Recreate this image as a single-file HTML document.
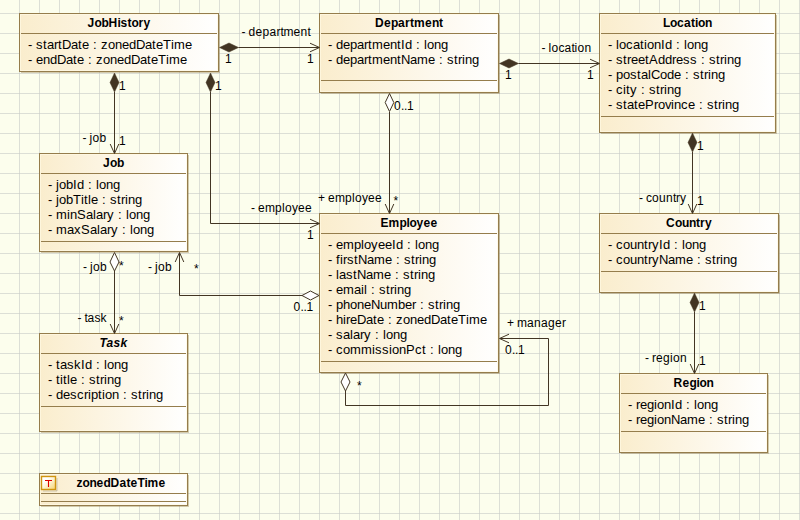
<!DOCTYPE html>
<html><head><meta charset="utf-8"><style>
html,body{margin:0;padding:0;background:#fcfeed;width:800px;height:520px;overflow:hidden}
svg{display:block}
text{font-family:"Liberation Sans",sans-serif;fill:#000000;font-kerning:none}
.h{font-size:12px;font-weight:bold}
.hi{font-size:12px;font-weight:bold;font-style:italic}
.a{font-size:13px}
.l{font-size:12px}
</style></head><body>
<svg width="800" height="520" viewBox="0 0 800 520">
<defs>
<linearGradient id="g" x1="0" y1="0" x2="1" y2="0">
<stop offset="0" stop-color="#faedcd"/><stop offset="1" stop-color="#ffffff"/>
</linearGradient>
<linearGradient id="ig" x1="0" y1="0" x2="1" y2="1">
<stop offset="0.3" stop-color="#ffffff"/><stop offset="1" stop-color="#f7d36a"/>
</linearGradient>
</defs>
<rect x="0" y="0" width="800" height="520" fill="#fcfeed"/>

<path d="M19.5 0V520 M39.5 0V520 M59.5 0V520 M79.5 0V520 M99.5 0V520 M119.5 0V520 M139.5 0V520 M159.5 0V520 M179.5 0V520 M199.5 0V520 M219.5 0V520 M239.5 0V520 M259.5 0V520 M279.5 0V520 M299.5 0V520 M319.5 0V520 M339.5 0V520 M359.5 0V520 M379.5 0V520 M399.5 0V520 M419.5 0V520 M439.5 0V520 M459.5 0V520 M479.5 0V520 M499.5 0V520 M519.5 0V520 M539.5 0V520 M559.5 0V520 M579.5 0V520 M599.5 0V520 M619.5 0V520 M639.5 0V520 M659.5 0V520 M679.5 0V520 M699.5 0V520 M719.5 0V520 M739.5 0V520 M759.5 0V520 M779.5 0V520 M799.5 0V520" stroke="#c8cbc8" stroke-opacity="0.62" stroke-width="1" fill="none"/>
<path d="M0 13.5H800 M0 33.5H800 M0 53.5H800 M0 73.5H800 M0 93.5H800 M0 113.5H800 M0 133.5H800 M0 153.5H800 M0 173.5H800 M0 193.5H800 M0 213.5H800 M0 233.5H800 M0 253.5H800 M0 273.5H800 M0 293.5H800 M0 313.5H800 M0 333.5H800 M0 353.5H800 M0 373.5H800 M0 393.5H800 M0 413.5H800 M0 433.5H800 M0 453.5H800 M0 473.5H800 M0 493.5H800 M0 513.5H800" stroke="#c8cbc8" stroke-opacity="0.62" stroke-width="1" fill="none"/>
<path d="M219.5 15V72.5H21" stroke="#957d4c" stroke-opacity="0.4" stroke-width="1" fill="none"/><rect x="19.5" y="13.5" width="199" height="58" fill="url(#g)" stroke="#957d4c" stroke-width="1"/><rect x="20.5" y="14.5" width="197" height="56" fill="none" stroke="#fff9e4" stroke-opacity="0.7" stroke-width="1"/><path d="M21 33.5H217" stroke="#957d4c" stroke-width="1"/>
<text class="h" x="87.5 94.5 101.5 108.5 117.5 120.5 127.5 131.5 138.5 143.5" y="27">JobHistory</text>
<text class="a" x="28 32.0 36.0 43.0 47.0 54.0 58.0 62.0 71.0 78.0 82.0 89.0 93.0 97.0 101.0 108.0 115.0 122.0 129.0 136.0 145.0 152.0 156.0 163.0 171.0 174.0 185.0" y="49">- startDate : zonedDateTime</text>
<text class="a" x="28 32.0 36.0 43.0 50.0 57.0 66.0 73.0 77.0 84.0 88.0 92.0 96.0 103.0 110.0 117.0 124.0 131.0 140.0 147.0 151.0 158.0 166.0 169.0 180.0" y="64">- endDate : zonedDateTime</text>
<path d="M499.5 15V93.5H321" stroke="#957d4c" stroke-opacity="0.4" stroke-width="1" fill="none"/><rect x="319.5" y="13.5" width="179" height="79" fill="url(#g)" stroke="#957d4c" stroke-width="1"/><rect x="320.5" y="14.5" width="177" height="77" fill="none" stroke="#fff9e4" stroke-opacity="0.7" stroke-width="1"/><path d="M321 33.5H497M321 80.5H497" stroke="#957d4c" stroke-width="1"/>
<text class="h" x="375.0 384.0 391.0 398.0 405.0 410.0 414.0 425.0 432.0 439.0" y="27">Department</text>
<text class="a" x="328 332.0 336.0 343.0 350.0 357.0 364.0 368.0 372.0 383.0 390.0 397.0 401.0 405.0 412.0 416.0 420.0 424.0 427.0 434.0 441.0" y="49">- departmentId : long</text>
<text class="a" x="328 332.0 336.0 343.0 350.0 357.0 364.0 368.0 372.0 383.0 390.0 397.0 401.0 410.0 417.0 428.0 435.0 439.0 443.0 447.0 454.0 458.0 462.0 465.0 472.0" y="64">- departmentName : string</text>
<path d="M776.5 15V133.5H601" stroke="#957d4c" stroke-opacity="0.4" stroke-width="1" fill="none"/><rect x="599.5" y="13.5" width="176" height="119" fill="url(#g)" stroke="#957d4c" stroke-width="1"/><rect x="600.5" y="14.5" width="174" height="117" fill="none" stroke="#fff9e4" stroke-opacity="0.7" stroke-width="1"/><path d="M601 33.5H774M601 116.5H774" stroke="#957d4c" stroke-width="1"/>
<text class="h" x="663.0 670.0 677.0 684.0 691.0 695.0 698.0 705.0" y="27">Location</text>
<text class="a" x="608 612.0 616.0 619.0 626.0 633.0 640.0 644.0 647.0 654.0 661.0 665.0 672.0 676.0 680.0 684.0 687.0 694.0 701.0" y="49">- locationId : long</text>
<text class="a" x="608 612.0 616.0 623.0 627.0 631.0 638.0 645.0 649.0 658.0 665.0 672.0 676.0 683.0 690.0 697.0 701.0 705.0 709.0 716.0 720.0 724.0 727.0 734.0" y="64">- streetAddress : string</text>
<text class="a" x="608 612.0 616.0 623.0 630.0 637.0 641.0 648.0 651.0 660.0 667.0 674.0 681.0 685.0 689.0 693.0 700.0 704.0 708.0 711.0 718.0" y="79">- postalCode : string</text>
<text class="a" x="608 612.0 616.0 623.0 626.0 630.0 637.0 641.0 645.0 649.0 656.0 660.0 664.0 667.0 674.0" y="94">- city : string</text>
<text class="a" x="608 612.0 616.0 623.0 627.0 634.0 638.0 645.0 654.0 658.0 665.0 671.0 674.0 681.0 688.0 695.0 699.0 703.0 707.0 714.0 718.0 722.0 725.0 732.0" y="109">- stateProvince : string</text>
<path d="M188.5 155V252.5H41" stroke="#957d4c" stroke-opacity="0.4" stroke-width="1" fill="none"/><rect x="39.5" y="153.5" width="148" height="98" fill="url(#g)" stroke="#957d4c" stroke-width="1"/><rect x="40.5" y="154.5" width="146" height="96" fill="none" stroke="#fff9e4" stroke-opacity="0.7" stroke-width="1"/><path d="M41 173.5H186M41 241.5H186" stroke="#957d4c" stroke-width="1"/>
<text class="h" x="103.0 110.0 117.0" y="167">Job</text>
<text class="a" x="48 52.0 56.0 59.0 66.0 73.0 77.0 84.0 88.0 92.0 96.0 99.0 106.0 113.0" y="189">- jobId : long</text>
<text class="a" x="48 52.0 56.0 59.0 66.0 73.0 81.0 84.0 88.0 91.0 98.0 102.0 106.0 110.0 117.0 121.0 125.0 128.0 135.0" y="204">- jobTitle : string</text>
<text class="a" x="48 52.0 56.0 67.0 70.0 77.0 86.0 93.0 96.0 103.0 107.0 114.0 118.0 122.0 126.0 129.0 136.0 143.0" y="219">- minSalary : long</text>
<text class="a" x="48 52.0 56.0 67.0 74.0 81.0 90.0 97.0 100.0 107.0 111.0 118.0 122.0 126.0 130.0 133.0 140.0 147.0" y="234">- maxSalary : long</text>
<path d="M499.5 215V373.5H321" stroke="#957d4c" stroke-opacity="0.4" stroke-width="1" fill="none"/><rect x="319.5" y="213.5" width="179" height="159" fill="url(#g)" stroke="#957d4c" stroke-width="1"/><rect x="320.5" y="214.5" width="177" height="157" fill="none" stroke="#fff9e4" stroke-opacity="0.7" stroke-width="1"/><path d="M321 233.5H497M321 361.5H497" stroke="#957d4c" stroke-width="1"/>
<text class="h" x="380.5 388.5 399.5 406.5 409.5 416.5 423.5 430.5" y="227">Employee</text>
<text class="a" x="328 332.0 336.0 343.0 354.0 361.0 364.0 371.0 378.0 385.0 392.0 396.0 403.0 407.0 411.0 415.0 418.0 425.0 432.0" y="249">- employeeId : long</text>
<text class="a" x="328 332.0 336.0 340.0 343.0 347.0 354.0 358.0 367.0 374.0 385.0 392.0 396.0 400.0 404.0 411.0 415.0 419.0 422.0 429.0" y="264">- firstName : string</text>
<text class="a" x="328 332.0 336.0 339.0 346.0 353.0 357.0 366.0 373.0 384.0 391.0 395.0 399.0 403.0 410.0 414.0 418.0 421.0 428.0" y="279">- lastName : string</text>
<text class="a" x="328 332.0 336.0 343.0 354.0 361.0 364.0 367.0 371.0 375.0 379.0 386.0 390.0 394.0 397.0 404.0" y="294">- email : string</text>
<text class="a" x="328 332.0 336.0 343.0 350.0 357.0 364.0 371.0 380.0 387.0 398.0 405.0 412.0 416.0 420.0 424.0 428.0 435.0 439.0 443.0 446.0 453.0" y="309">- phoneNumber : string</text>
<text class="a" x="328 332.0 336.0 343.0 346.0 350.0 357.0 366.0 373.0 377.0 384.0 388.0 392.0 396.0 403.0 410.0 417.0 424.0 431.0 440.0 447.0 451.0 458.0 466.0 469.0 480.0" y="324">- hireDate : zonedDateTime</text>
<text class="a" x="328 332.0 336.0 343.0 350.0 353.0 360.0 364.0 371.0 375.0 379.0 383.0 386.0 393.0 400.0" y="339">- salary : long</text>
<text class="a" x="328 332.0 336.0 343.0 350.0 361.0 372.0 375.0 382.0 389.0 392.0 399.0 406.0 415.0 422.0 426.0 430.0 434.0 438.0 441.0 448.0 455.0" y="354">- commissionPct : long</text>
<path d="M779.5 215V293.5H601" stroke="#957d4c" stroke-opacity="0.4" stroke-width="1" fill="none"/><rect x="599.5" y="213.5" width="179" height="79" fill="url(#g)" stroke="#957d4c" stroke-width="1"/><rect x="600.5" y="214.5" width="177" height="77" fill="none" stroke="#fff9e4" stroke-opacity="0.7" stroke-width="1"/><path d="M601 233.5H777M601 271.5H777" stroke="#957d4c" stroke-width="1"/>
<text class="h" x="666.0 675.0 682.0 689.0 696.0 700.0 705.0" y="227">Country</text>
<text class="a" x="608 612.0 616.0 623.0 630.0 637.0 644.0 648.0 652.0 659.0 663.0 670.0 674.0 678.0 682.0 685.0 692.0 699.0" y="249">- countryId : long</text>
<text class="a" x="608 612.0 616.0 623.0 630.0 637.0 644.0 648.0 652.0 659.0 668.0 675.0 686.0 693.0 697.0 701.0 705.0 712.0 716.0 720.0 723.0 730.0" y="264">- countryName : string</text>
<path d="M188.5 335V432.5H41" stroke="#957d4c" stroke-opacity="0.4" stroke-width="1" fill="none"/><rect x="39.5" y="333.5" width="148" height="98" fill="url(#g)" stroke="#957d4c" stroke-width="1"/><rect x="40.5" y="334.5" width="146" height="96" fill="none" stroke="#fff9e4" stroke-opacity="0.7" stroke-width="1"/><path d="M41 353.5H186M41 406.5H186" stroke="#957d4c" stroke-width="1"/>
<text class="hi" x="99.5 106.5 113.5 120.5" y="347">Task</text>
<text class="a" x="48 52.0 56.0 60.0 67.0 74.0 81.0 85.0 92.0 96.0 100.0 104.0 107.0 114.0 121.0" y="369">- taskId : long</text>
<text class="a" x="48 52.0 56.0 60.0 63.0 67.0 70.0 77.0 81.0 85.0 89.0 96.0 100.0 104.0 107.0 114.0" y="384">- title : string</text>
<text class="a" x="48 52.0 56.0 63.0 70.0 77.0 84.0 88.0 91.0 98.0 102.0 105.0 112.0 119.0 123.0 127.0 131.0 138.0 142.0 146.0 149.0 156.0" y="399">- description : string</text>
<path d="M768.5 375V453.5H621" stroke="#957d4c" stroke-opacity="0.4" stroke-width="1" fill="none"/><rect x="619.5" y="373.5" width="148" height="79" fill="url(#g)" stroke="#957d4c" stroke-width="1"/><rect x="620.5" y="374.5" width="146" height="77" fill="none" stroke="#fff9e4" stroke-opacity="0.7" stroke-width="1"/><path d="M621 393.5H766M621 431.5H766" stroke="#957d4c" stroke-width="1"/>
<text class="h" x="673.5 682.5 689.5 696.5 699.5 706.5" y="387">Region</text>
<text class="a" x="628 632.0 636.0 640.0 647.0 654.0 657.0 664.0 671.0 675.0 682.0 686.0 690.0 694.0 697.0 704.0 711.0" y="409">- regionId : long</text>
<text class="a" x="628 632.0 636.0 640.0 647.0 654.0 657.0 664.0 671.0 680.0 687.0 698.0 705.0 709.0 713.0 717.0 724.0 728.0 732.0 735.0 742.0" y="424">- regionName : string</text>
<path d="M188.5 475V506.5H41" stroke="#957d4c" stroke-opacity="0.4" stroke-width="1" fill="none"/><rect x="39.5" y="473.5" width="148" height="32" fill="url(#g)" stroke="#957d4c" stroke-width="1"/><rect x="40.5" y="474.5" width="146" height="30" fill="none" stroke="#fff9e4" stroke-opacity="0.7" stroke-width="1"/><path d="M41 493.5H186M41 501.5H186" stroke="#957d4c" stroke-width="1"/>
<path d="M57 478V491H43" stroke="#000" stroke-opacity="0.18" stroke-width="1" fill="none"/>
<rect x="41.5" y="476.5" width="14" height="13" fill="url(#ig)" stroke="#cf9410" stroke-width="1.4"/>
<path d="M45 480.5H52M48.5 480.5V487" stroke="#dd0000" stroke-width="1.1"/>
<text class="h" x="76.5 82.5 89.5 96.5 103.5 110.5 119.5 126.5 130.5 137.5 144.5 147.5 158.5" y="487">zonedDateTime</text>
<polygon points="219.5,47.5 229,43 238.5,47.5 229,52" fill="#423523" stroke="#423523" stroke-width="0.5"/>
<path d="M238.5 47.5H319" stroke="#423523" stroke-width="1" fill="none"/>
<path d="M310.00 43.20L319.5 47.5L310.00 51.80" stroke="#423523" stroke-width="1" fill="none"/>
<text class="l" x="241.5 245.5 248.5 255.5 262.5 269.5 276.5 280.5 283.5 293.5 300.5 307.5" y="36">- department</text>
<text class="l" x="225" y="63">1</text>
<text class="l" x="307" y="63">1</text>
<polygon points="499.5,63.5 509,59 518.5,63.5 509,68" fill="#423523" stroke="#423523" stroke-width="0.5"/>
<path d="M518.5 63.5H599" stroke="#423523" stroke-width="1" fill="none"/>
<path d="M590.00 59.20L599.5 63.5L590.00 67.80" stroke="#423523" stroke-width="1" fill="none"/>
<text class="l" x="541.5 545.5 548.5 551.5 558.5 564.5 571.5 574.5 577.5 584.5" y="52">- location</text>
<text class="l" x="505" y="79">1</text>
<text class="l" x="587" y="79">1</text>
<polygon points="114.5,73 119,82.5 114.5,92 110,82.5" fill="#423523" stroke="#423523" stroke-width="0.5"/>
<path d="M114.5 92V153" stroke="#423523" stroke-width="1" fill="none"/>
<path d="M110.20 144.00L114.5 153.5L118.80 144.00" stroke="#423523" stroke-width="1" fill="none"/>
<text class="l" x="119" y="90">1</text>
<text class="l" x="82.5 86.5 89.5 92.5 99.5" y="142">- job</text>
<text class="l" x="119" y="144.5">1</text>
<polygon points="210.5,73 215,82.5 210.5,92 206,82.5" fill="#423523" stroke="#423523" stroke-width="0.5"/>
<path d="M210.5 92V223.5H319" stroke="#423523" stroke-width="1" fill="none"/>
<path d="M310.00 219.20L319.5 223.5L310.00 227.80" stroke="#423523" stroke-width="1" fill="none"/>
<text class="l" x="215" y="90">1</text>
<text class="l" x="251 255.0 258.0 265.0 275.0 282.0 285.0 292.0 298.0 305.0" y="212">- employee</text>
<text class="l" x="307" y="239">1</text>
<polygon points="389.5,93.5 393.8,102.5 389.5,111.5 385.2,102.5" fill="#ffffff" stroke="#423523" stroke-width="1"/>
<path d="M389.5 112V213" stroke="#423523" stroke-width="1" fill="none"/>
<path d="M385.20 204.00L389.5 213.5L393.80 204.00" stroke="#423523" stroke-width="1" fill="none"/>
<text class="l" x="394 401.0 404.0 407.0" y="110">0..1</text>
<text class="l" x="318 325.0 328.0 335.0 345.0 352.0 355.0 362.0 368.0 375.0" y="202">+ employee</text>
<text class="l" x="393.5" y="205">*</text>
<polygon points="692.5,133 697,142.5 692.5,152 688,142.5" fill="#423523" stroke="#423523" stroke-width="0.5"/>
<path d="M692.5 152V213" stroke="#423523" stroke-width="1" fill="none"/>
<path d="M688.20 204.00L692.5 213.5L696.80 204.00" stroke="#423523" stroke-width="1" fill="none"/>
<text class="l" x="697" y="150">1</text>
<text class="l" x="639 643.0 646.0 652.0 659.0 666.0 673.0 676.0 680.0" y="202">- country</text>
<text class="l" x="697" y="205">1</text>
<polygon points="694.5,293 699,302.5 694.5,312 690,302.5" fill="#423523" stroke="#423523" stroke-width="0.5"/>
<path d="M694.5 312V373" stroke="#423523" stroke-width="1" fill="none"/>
<path d="M690.20 364.00L694.5 373.5L698.80 364.00" stroke="#423523" stroke-width="1" fill="none"/>
<text class="l" x="699" y="310">1</text>
<text class="l" x="645 649.0 652.0 656.0 663.0 670.0 673.0 680.0" y="362">- region</text>
<text class="l" x="699" y="365">1</text>
<polygon points="114.5,252.5 119,262 114.5,271 110,262" fill="#ffffff" stroke="#423523" stroke-width="1"/>
<path d="M114.5 271V333" stroke="#423523" stroke-width="1" fill="none"/>
<path d="M110.20 324.00L114.5 333.5L118.80 324.00" stroke="#423523" stroke-width="1" fill="none"/>
<text class="l" x="83 87.0 90.0 93.0 100.0" y="271">- job</text>
<text class="l" x="119" y="269.5">*</text>
<text class="l" x="77.5 81.5 84.5 87.5 94.5 100.5" y="322">- task</text>
<text class="l" x="119" y="325">*</text>
<polygon points="319,295.5 310.5,291 302,295.5 310.5,300" fill="#ffffff" stroke="#423523" stroke-width="1"/>
<path d="M302 295.5H179.5V253" stroke="#423523" stroke-width="1" fill="none"/>
<path d="M175.20 262.00L179.5 252.5L183.80 262.00" stroke="#423523" stroke-width="1" fill="none"/>
<text class="l" x="148 152.0 155.0 158.0 165.0" y="271">- job</text>
<text class="l" x="194" y="273">*</text>
<text class="l" x="293.5 300.5 303.5 306.5" y="311">0..1</text>
<polygon points="345.5,373 350,382 345.5,391 341,382" fill="#ffffff" stroke="#423523" stroke-width="1"/>
<path d="M345.5 391V405.5H548.5V338.5H500" stroke="#423523" stroke-width="1" fill="none"/>
<path d="M509.00 334.20L499.5 338.5L509.00 342.80" stroke="#423523" stroke-width="1" fill="none"/>
<text class="l" x="357" y="390">*</text>
<text class="l" x="507 514.0 517.0 527.0 534.0 541.0 548.0 555.0 562.0" y="327">+ manager</text>
<text class="l" x="505 512.0 515.0 518.0" y="354">0..1</text>
</svg></body></html>
